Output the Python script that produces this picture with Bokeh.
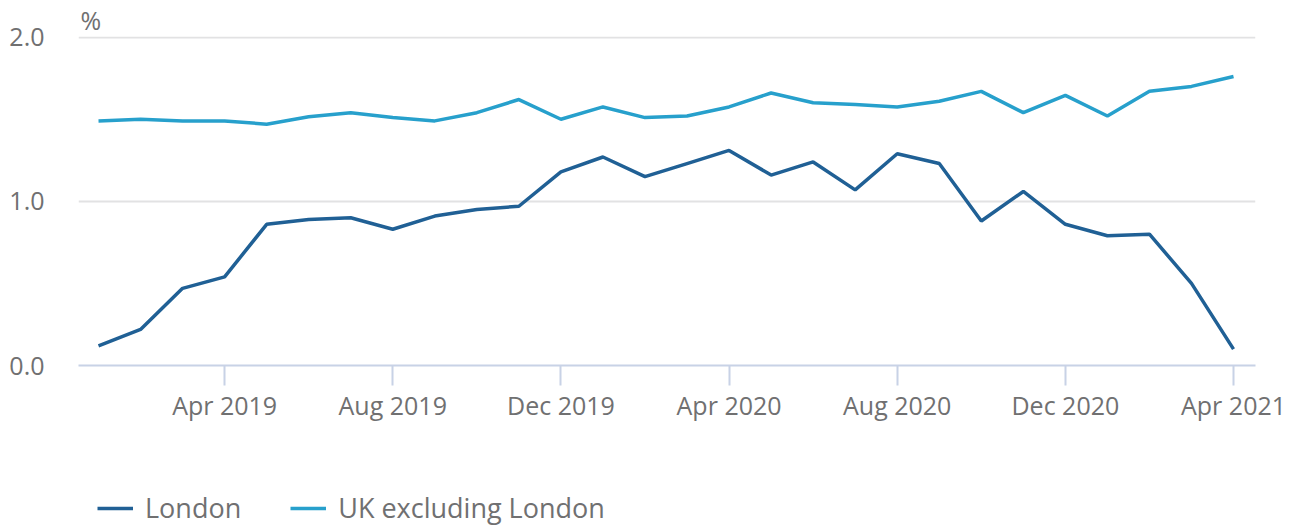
import numpy as np
from bokeh.plotting import figure
from bokeh.layouts import column
from bokeh.models import Range1d, FixedTicker, Legend, LegendItem, NumeralTickFormatter
from bokeh.embed import file_html
from bokeh.resources import INLINE

months = ["Jan 2019", "Feb 2019", "Mar 2019", "Apr 2019", "May 2019", "Jun 2019",
          "Jul 2019", "Aug 2019", "Sep 2019", "Oct 2019", "Nov 2019", "Dec 2019",
          "Jan 2020", "Feb 2020", "Mar 2020", "Apr 2020", "May 2020", "Jun 2020",
          "Jul 2020", "Aug 2020", "Sep 2020", "Oct 2020", "Nov 2020", "Dec 2020",
          "Jan 2021", "Feb 2021", "Mar 2021", "Apr 2021"]
london = [0.12, 0.22, 0.47, 0.54, 0.86, 0.89, 0.90, 0.83, 0.91, 0.95, 0.97, 1.18,
          1.27, 1.15, 1.23, 1.31, 1.16, 1.24, 1.07, 1.29, 1.23, 0.88, 1.06, 0.86,
          0.79, 0.80, 0.50, 0.10]
uk_excl_london = [1.49, 1.50, 1.49, 1.49, 1.47, 1.515, 1.54, 1.51, 1.49, 1.54, 1.62, 1.50,
                  1.575, 1.51, 1.52, 1.575, 1.66, 1.60, 1.59, 1.575, 1.61, 1.67, 1.54, 1.645,
                  1.52, 1.67, 1.70, 1.76]
series_names = ["London", "UK excluding London"]
series_colors = ["#206095", "#27a0cc"]
tick_labels = ["Apr 2019", "Aug 2019", "Dec 2019", "Apr 2020", "Aug 2020", "Dec 2020", "Apr 2021"]
y_ticks = [0, 1, 2]

x = list(range(len(months)))
tick_pos = [months.index(t) for t in tick_labels]

FONT = "Open Sans"
GREY = "#707071"

p = figure(width=1293, height=470, output_backend="svg", toolbar_location=None,
           x_range=Range1d(-0.476, 27.523), y_range=Range1d(0, 2.004),
           min_border_left=78, min_border_right=38, min_border_top=34, min_border_bottom=105)
p.outline_line_color = None
p.background_fill_color = "white"
p.border_fill_color = "white"

p.title.text = "%"
p.title.align = "left"
p.title.text_font = FONT
p.title.text_font_size = "25px"
p.title.text_font_style = "normal"
p.title.text_color = GREY
p.title.standoff = 0
p.title.offset = 2

p.line(x, london, line_color=series_colors[0], line_width=3.5)
p.line(x, uk_excl_london, line_color=series_colors[1], line_width=3.5)

p.xgrid.grid_line_color = None
p.ygrid.grid_line_color = "#e2e2e3"
p.ygrid.grid_line_width = 2
p.ygrid.ticker = FixedTicker(ticks=y_ticks)

yax = p.yaxis[0]
yax.ticker = FixedTicker(ticks=y_ticks)
yax.formatter = NumeralTickFormatter(format="0.0")
yax.axis_line_color = None
yax.major_tick_line_color = None
yax.minor_tick_line_color = None
yax.major_tick_out = 0
yax.major_label_standoff = 34
yax.major_label_text_font = FONT
yax.major_label_text_font_size = "25px"
yax.major_label_text_color = GREY

xax = p.xaxis[0]
xax.ticker = FixedTicker(ticks=tick_pos)
xax.major_label_overrides = {pos: lab for pos, lab in zip(tick_pos, tick_labels)}
xax.axis_line_color = "#c8d2e6"
xax.axis_line_width = 2
xax.major_tick_line_color = "#c8d2e6"
xax.major_tick_line_width = 2
xax.major_tick_out = 20
xax.major_tick_in = 0
xax.minor_tick_line_color = None
xax.major_label_standoff = 2
xax.major_label_text_font = FONT
xax.major_label_text_font_size = "25px"
xax.major_label_text_color = GREY

# legend strip below the chart (its frame is aligned with the chart frame)
lg = figure(width=1293, height=56, output_backend="svg", toolbar_location=None,
            x_axis_type=None, y_axis_type=None, x_range=Range1d(0, 1), y_range=Range1d(0, 1),
            min_border=0)
lg.outline_line_color = None
lg.grid.grid_line_color = None
lg_r = [lg.line(np.array([np.nan]), np.array([np.nan]), line_color=c, line_width=3.5)
        for c in series_colors]
legend = Legend(items=[LegendItem(label=n, renderers=[r]) for n, r in zip(series_names, lg_r)],
                orientation="horizontal", glyph_width=36, glyph_height=20,
                label_standoff=12, spacing=49, padding=0, margin=0,
                border_line_color=None, background_fill_alpha=0,
                label_text_font=FONT, label_text_font_size="27px",
                label_text_color=GREY, location=(19, 0))
lg.add_layout(legend, "center")

layout = column(p, lg, spacing=0)
open("out.html", "w").write(file_html(layout, INLINE))
